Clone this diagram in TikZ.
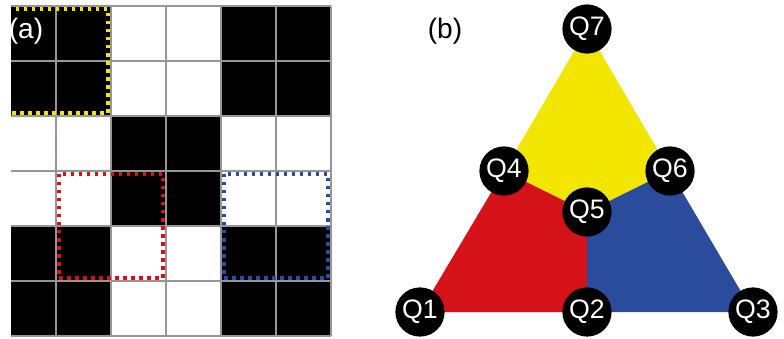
\documentclass[tikz,border=0pt]{standalone}
\usepackage{fontspec}
\setmainfont{Liberation Sans}
\usetikzlibrary{calc}

\definecolor{faceyellow}{RGB}{242,230,0}
\definecolor{facered}{RGB}{212,18,24}
\definecolor{faceblue}{RGB}{43,76,156}
\definecolor{gridgray}{RGB}{150,150,150}

\begin{document}
\begin{tikzpicture}[x=0.025cm, y=-0.025cm,
    qubit/.style = {circle, fill=black, text=white, minimum size=35pt, inner sep=0pt, font=\fontsize{19}{19}\selectfont},
    plaquette/.style = {line width=2.8pt, dash pattern=on 2.4pt off 3.3pt}]
    \useasboundingbox (0,0) rectangle (784,338);

    % (a) checkerboard of 2x2 blocks, cut at the left edge
    \begin{scope}
    \clip (11,0) rectangle (340,338);
    \foreach \r in {0,1,4,5} \foreach \c in {0,1,4,5}
        \fill (1+55*\c,6+55*\r) rectangle ++(55,55);
    \foreach \r in {2,3} \foreach \c in {2,3}
        \fill (1+55*\c,6+55*\r) rectangle ++(55,55);
    % grid lines
    \foreach \i in {0,...,6} {
        \draw[gridgray, line width=1.1pt] (1+55*\i,6) -- (1+55*\i,336);
        \draw[gridgray, line width=1.1pt] (1,6+55*\i) -- (331,6+55*\i);
    }
    % dotted plaquettes
    \draw[plaquette, faceyellow] (4,9) rectangle (108,113);
    \draw[plaquette, facered] (59,174) rectangle (163,278);
    \draw[plaquette, faceblue] (224,174) rectangle (328,278);
    \node at (26,31) [text=white, font=\fontsize{20}{20}\selectfont] (labela) {(a)};
    \end{scope}

    % (b) triangle of qubits
    \coordinate (Q1) at (420,312);
    \coordinate (Q2) at (587,312);
    \coordinate (Q3) at (753,312);
    \coordinate (Q4) at (504,171);
    \coordinate (Q5) at (587,212);
    \coordinate (Q6) at (670,171);
    \coordinate (Q7) at (587,29);

    % coloured faces
    \fill[faceyellow] (Q7) -- (Q6) -- (Q5) -- (Q4) -- cycle;
    \fill[facered] (Q1) -- (Q4) -- (Q5) -- (Q2) -- cycle;
    \fill[faceblue] (Q2) -- (Q5) -- (Q6) -- (Q3) -- cycle;

    % qubit labels
    \foreach \n in {1,...,7}
        \node[qubit] (q\n) at (Q\n) {Q\n};
    \node at (445,31) [font=\fontsize{20}{20}\selectfont] (labelb) {(b)};

\end{tikzpicture}
\end{document}
